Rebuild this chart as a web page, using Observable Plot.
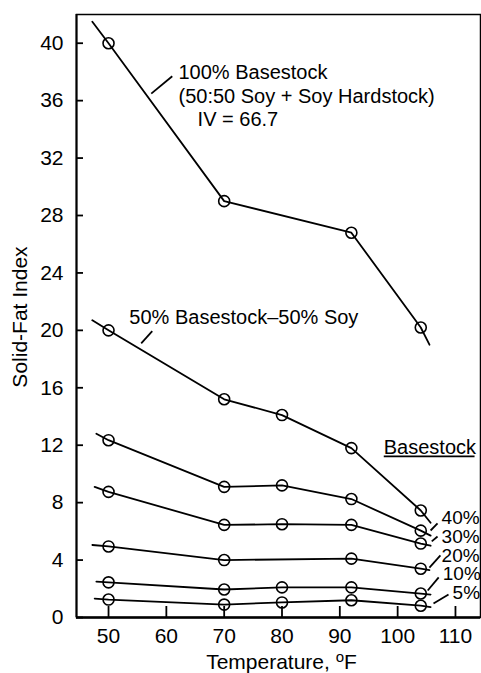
<!DOCTYPE html>
<html><head><meta charset="utf-8">
<script src="https://cdn.jsdelivr.net/npm/d3@7"></script>
<script src="https://cdn.jsdelivr.net/npm/@observablehq/plot@0.6"></script>
<style>body{margin:0;background:#fff} svg{display:block}</style>
</head><body><div id="chart"></div>
<script>
// Data
const temps = [50, 70, 80, 92, 104];
const series = ["100%", "50%", "40%", "30%", "20%", "10%", "5%"];
const sfi100 = [40, 29, null, 26.8, 20.2];
const sfi50 = [20, 15.2, 14.1, 11.8, 7.45];
const sfi40 = [12.35, 9.1, 9.2, 8.25, 6.05];
const sfi30 = [8.75, 6.45, 6.5, 6.45, 5.15];
const sfi20 = [4.95, 4.0, null, 4.1, 3.4];
const sfi10 = [2.45, 1.95, 2.1, 2.1, 1.67];
const sfi5 = [1.25, 0.9, 1.05, 1.2, 0.82];
// drawn line extents beyond the first / last measured point
const lineStartX = [47.2, 47.2, 47.9, 47.6, 47.2, 47.9, 47.6];
const lineStartY = [41.5, 20.7, 12.8, 9.1, 5.05, 2.5, 1.32];
const lineEndX = [105.5, 105.7, 105.7, 105.7, 105.5, 105.7, 105.7];
const lineEndY = [19.0, 6.6, 5.7, 5.0, 3.3, 1.6, 0.72];

const xTicks = [50, 60, 70, 80, 90, 100, 110];
const yTicks = [0, 4, 8, 12, 16, 20, 24, 28, 32, 36, 40];

// annotations
const annoText = ["100% Basestock", "(50:50 Soy + Soy Hardstock)", "IV = 66.7", "50% Basestock\u201350% Soy", "Basestock"];
const annoX = [62.1, 62.1, 65.4, 53.6, 97.6];
const annoY = [37.98, 36.3, 34.7, 20.9, 11.85];

const pctLabels = ["40%", "30%", "20%", "10%", "5%"];
const pctX = [107.6, 107.6, 107.6, 107.8, 109.5];
const pctY = [6.97, 5.64, 4.32, 3.05, 1.68];

const leadX1 = [57.39, 55.65, 105.7, 105.9, 105.5, 105.2, 106.2];
const leadY1 = [36.49, 19.1, 6.06, 5.3, 3.48, 1.88, 0.98];
const leadX2 = [61.02, 57.56, 106.9, 106.9, 107.4, 107.1, 108.8];
const leadY2 = [37.7, 19.94, 6.55, 5.64, 4.32, 2.79, 1.6];

const underlineX = [97.6, 113.3];
const underlineY = 11.22;

// build tables
const valueLists = [sfi100, sfi50, sfi40, sfi30, sfi20, sfi10, sfi5];
const points = [];
const lines = [];
series.forEach((s, i) => {
  lines.push({s, t: lineStartX[i], v: lineStartY[i]});
  temps.forEach((t, j) => {
    const v = valueLists[i][j];
    if (v != null) { points.push({s, t, v}); lines.push({s, t, v}); }
  });
  lines.push({s, t: lineEndX[i], v: lineEndY[i]});
});
const annos = annoText.map((text, i) => ({text, x: annoX[i], y: annoY[i]}));
const pcts = pctLabels.map((text, i) => ({text, x: pctX[i], y: pctY[i]}));
const leaders = leadX1.map((x1, i) => ({x1, y1: leadY1[i], x2: leadX2[i], y2: leadY2[i]}));
leaders.push({x1: underlineX[0], y1: underlineY, x2: underlineX[1], y2: underlineY});

const xDomain = [44.46, 114.33];
const font = "'Liberation Sans', Arial, Helvetica, sans-serif";

const plot = Plot.plot({
  width: 481, height: 673,
  marginLeft: 76, marginRight: 1, marginTop: 14, marginBottom: 56,
  style: {fontFamily: font, fontSize: "21px", color: "black", background: "white"},
  x: {domain: xDomain},
  y: {domain: [0, 42]},
  marks: [
    Plot.frame({stroke: "black", strokeWidth: 1.5}),
    Plot.axisX(xTicks, {tickSize: 0, tickPadding: 11, label: null, fontSize: 21}),
    Plot.axisX(xTicks, {tickSize: -11, tickFormat: () => "", label: null, strokeWidth: 1.8}),
    Plot.axisY(yTicks, {tickSize: 0, tickPadding: 13, label: null, fontSize: 21}),
    Plot.axisY(yTicks, {tickSize: -7, tickFormat: () => "", label: null, strokeWidth: 1.8}),
    Plot.ruleY([0], {stroke: "black", strokeWidth: 2.5}),
    Plot.ruleX([xDomain[0]], {stroke: "black", strokeWidth: 2}),
    Plot.line(lines, {x: "t", y: "v", z: "s", stroke: "black", strokeWidth: 1.8}),
    Plot.dot(points, {x: "t", y: "v", r: 5.5, stroke: "black", strokeWidth: 1.6, fill: "none"}),
    Plot.link(leaders, {x1: "x1", y1: "y1", x2: "x2", y2: "y2", stroke: "black", strokeWidth: 1.8}),
    Plot.text(annos, {x: "x", y: "y", text: "text", textAnchor: "start", lineAnchor: "middle", fontSize: 20}),
    Plot.text(pcts, {x: "x", y: "y", text: "text", textAnchor: "start", lineAnchor: "middle", fontSize: 19}),
    Plot.text(["Solid-Fat Index"], {frameAnchor: "left", rotate: -90, dx: -56, dy: 1, textAnchor: "middle", lineAnchor: "middle", fontSize: 21}),
    Plot.text(["Temperature, \u00b0F"], {frameAnchor: "bottom", dy: 45, dx: 3, textAnchor: "middle", fontSize: 21, lineAnchor: "middle"})
  ]
});

d3.select(plot).selectAll("text").filter(function() { return this.textContent === "Temperature, \u00b0F"; })
  .each(function() {
    const t = d3.select(this);
    t.text("Temperature, ");
    t.append("tspan").attr("dy", "-7").attr("font-size", "15px").text("o");
    t.append("tspan").attr("dy", "7").text("F");
  });

document.getElementById("chart").appendChild(plot);
</script>
</body></html>
